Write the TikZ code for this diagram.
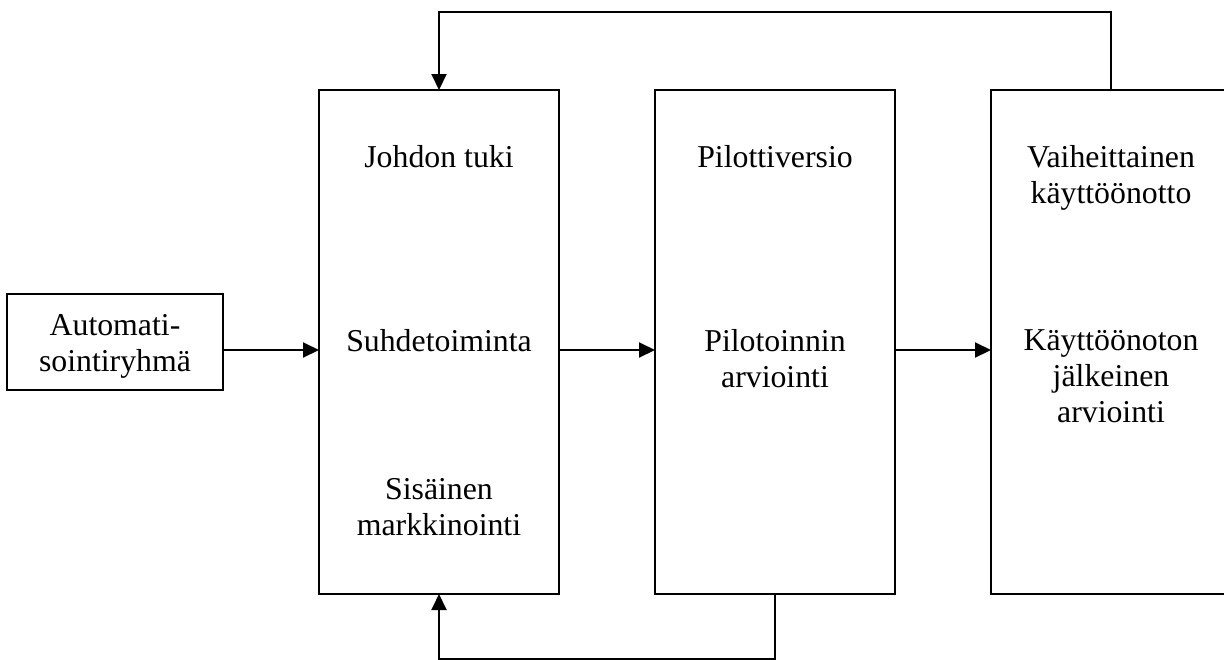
\documentclass[tikz,border=0pt]{standalone}
\usepackage{fontspec}
\setmainfont{Liberation Serif}
\usetikzlibrary{arrows.meta}
\begin{document}
\begin{tikzpicture}[x=0.5pt,y=-0.5pt,
  every node/.style={font=\fontsize{15.9}{18}\selectfont, inner sep=0pt, outer sep=0pt},
  box/.style={draw, line width=1pt, rectangle},
  lbl/.style={align=center, anchor=base},
  arr/.style={line width=1pt, -{Triangle[length=8pt,width=7.5pt]}}]
\useasboundingbox (0,0) rectangle (1224,659);
\clip (0,0) rectangle (1224,659);

% boxes
\node[box, minimum width=108pt, minimum height=48pt] (group) at (115,342) {};
\node[box, minimum width=120pt, minimum height=252pt] (box1) at (439,342) {};
\node[box, minimum width=120pt, minimum height=252pt] (box2) at (775,342) {};
\node[box, minimum width=120pt, minimum height=252pt] (box3) at (1111,342) {};

% texts (anchored at the baseline of the last line)
\node[lbl] (tgroup) at (115,371) {Automati-\\sointiryhmä};
\node[lbl] (t1a) at (439,167) {Johdon tuki};
\node[lbl] (t1b) at (439,351) {Suhdetoiminta};
\node[lbl] (t1c) at (439,535) {Sisäinen\\markkinointi};
\node[lbl] (t2a) at (775,167) {Pilottiversio};
\node[lbl] (t2b) at (775,387) {Pilotoinnin\\arviointi};
\node[lbl] (t3a) at (1111,203) {Vaiheittainen\\käyttöönotto};
\node[lbl] (t3b) at (1111,422) {Käyttöönoton\\jälkeinen\\arviointi};

% forward arrows
\draw[arr] ([yshift=-4pt]group.east) -- ([yshift=-4pt]box1.west);
\draw[arr] ([yshift=-4pt]box1.east) -- ([yshift=-4pt]box2.west);
\draw[arr] ([yshift=-4pt]box2.east) -- ([yshift=-4pt]box3.west);

% feedback loops
\draw[arr] (box3.north) -- ++(0,-78) -| (box1.north);
\draw[arr] (box2.south) -- ++(0,65) -| (box1.south);
\end{tikzpicture}
\end{document}
